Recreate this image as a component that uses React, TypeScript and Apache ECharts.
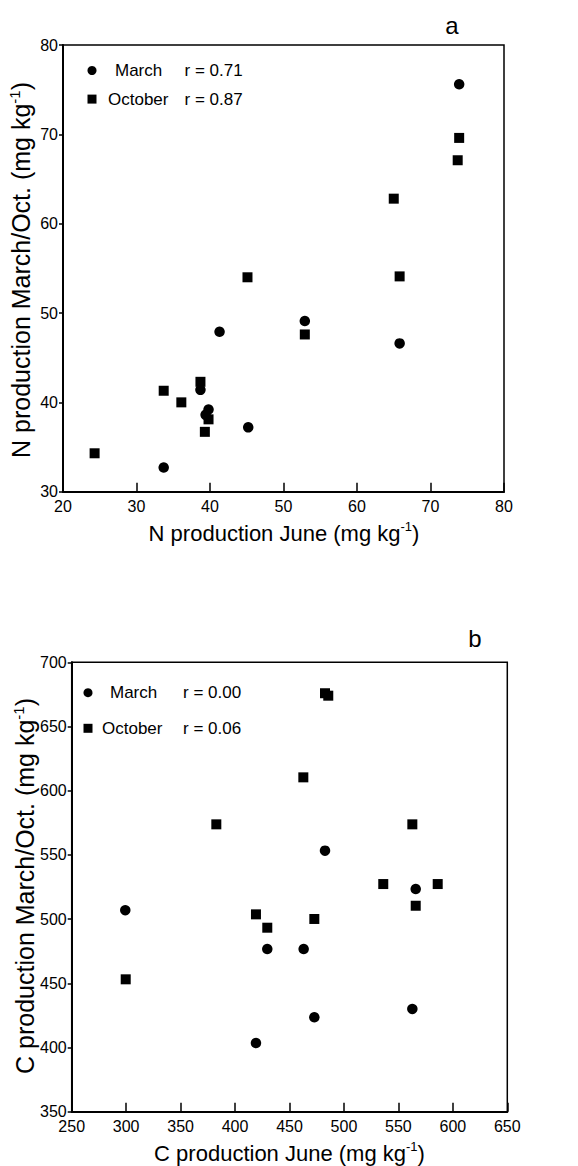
import React, { useEffect, useRef } from 'react';
import * as echarts from 'echarts';

const FONT = '"Liberation Sans", Arial, Helvetica, sans-serif';

// Panel a: N production
const nMarchX = [73.9, 52.9, 41.3, 65.8, 38.7, 39.8, 39.4, 45.2, 33.7];
const nMarchY = [75.6, 49.1, 47.9, 46.6, 41.4, 39.2, 38.6, 37.2, 32.7];
const nOctX = [73.9, 73.7, 65.0, 45.1, 65.8, 52.9, 38.7, 33.7, 36.1, 39.8, 39.3, 24.3];
const nOctY = [69.6, 67.1, 62.8, 54.0, 54.1, 47.6, 42.3, 41.3, 40.0, 38.1, 36.7, 34.3];

// Panel b: C production
const cMarchX = [482.6, 565.9, 299.2, 429.6, 463.0, 562.8, 472.8, 419.2];
const cMarchY = [553.3, 523.4, 506.9, 476.7, 476.7, 430.0, 423.5, 403.5];
const cOctX = [482.6, 485.6, 462.7, 382.8, 562.8, 536.1, 586.1, 565.9, 419.2, 472.8, 429.6, 299.6];
const cOctY = [675.9, 674.0, 610.4, 573.8, 573.8, 527.3, 527.3, 510.4, 503.7, 500.1, 493.3, 453.1];

const rA = { March: 'r = 0.71', October: 'r = 0.87' };
const rB = { March: 'r = 0.00', October: 'r = 0.06' };

const pair = (xs: number[], ys: number[]) => xs.map((x, i) => [x, ys[i]]);

export default function App() {
  const ref = useRef<HTMLDivElement>(null);
  useEffect(() => {
    const chart = echarts.init(ref.current!, null, { renderer: 'svg' });

    const xAxisBase = (min: number, max: number, interval: number, gridIndex: number) => ({
      type: 'value',
      gridIndex,
      min,
      max,
      interval,
      axisLine: { show: true, onZero: false, lineStyle: { color: '#000', width: 2 } },
      axisTick: { show: true, inside: true, length: 9, lineStyle: { color: '#000', width: 1.5 } },
      axisLabel: { color: '#000', fontSize: 16, fontFamily: FONT, margin: 7 },
      splitLine: { show: false },
    });
    const yAxisBase = (min: number, max: number, interval: number, gridIndex: number) => ({
      type: 'value',
      gridIndex,
      min,
      max,
      interval,
      axisLine: { show: true, onZero: false, lineStyle: { color: '#000', width: 2 } },
      axisTick: { show: true, inside: false, length: 4, lineStyle: { color: '#000', width: 1.5 } },
      axisLabel: { color: '#000', fontSize: 16, fontFamily: FONT, margin: 5 },
      splitLine: { show: false },
    });

    const sym = (name: string, symbol: string, size: number, data: number[][], idx: number) => ({
      type: 'scatter',
      name,
      xAxisIndex: idx,
      yAxisIndex: idx,
      symbol,
      symbolSize: size,
      itemStyle: { color: '#000', opacity: 1 },
      data,
    });

    const titleRich = (size: number) => ({
      t: { fontSize: size, fontFamily: FONT, fill: '#000', lineHeight: size + 4 },
      s: { fontSize: Math.round(size * 0.6), fontFamily: FONT, fill: '#000', verticalAlign: 'top', lineHeight: Math.round(size * 0.6) + 2 },
    });

    const textEl = (x: number, y: number, text: string, size: number, rotation = 0) => ({
      type: 'text',
      x,
      y,
      rotation,
      style: {
        text,
        rich: titleRich(size),
        fill: '#000',
        font: `${size}px ${FONT}`,
        align: 'center',
        verticalAlign: 'middle',
        textAlign: 'center',
        textVerticalAlign: 'middle',
      },
    });

    const LS = 17;
    const legendText = () => ({
      color: '#000',
      fontSize: LS,
      fontFamily: FONT,
      lineHeight: 20,
    });

    const option: any = {
      animation: false,
      backgroundColor: '#fff',
      grid: [
        { left: 63, top: 45, width: 441, height: 446.7, show: true, borderColor: '#000', borderWidth: 1.5, backgroundColor: 'transparent' },
        { left: 71.7, top: 662.3, width: 435.6, height: 449.4, show: true, borderColor: '#000', borderWidth: 1.5, backgroundColor: 'transparent' },
      ],
      xAxis: [xAxisBase(20, 80, 10, 0), xAxisBase(250, 650, 50, 1)],
      yAxis: [yAxisBase(30, 80, 10, 0), yAxisBase(350, 700, 50, 1)],
      legend: [
        {
          left: 87.5,
          top: 60.5,
          padding: 0,
          orient: 'vertical',
          itemWidth: 9,
          itemHeight: 9,
          itemGap: 8.6,
          selectedMode: false,
          itemStyle: { opacity: 1, color: '#000' },
          data: [
            { name: 'March', icon: 'circle' },
            { name: 'October', icon: 'rect' },
          ],
          formatter: (name: string) =>
            name === 'March'
              ? `{a|}{m|March}{r|${rA.March}}`
              : `{b|}{o|October}{r|${rA.October}}`,
          textStyle: {
            ...legendText(),
            rich: {
              a: { width: 13.5 },
              b: { width: 6.5 },
              m: { width: 69.5, ...legendText() },
              o: { width: 76.5, ...legendText() },
              r: { ...legendText() },
            },
          },
        },
        {
          left: 83.5,
          top: 682.7,
          padding: 0,
          orient: 'vertical',
          itemWidth: 9,
          itemHeight: 9,
          itemGap: 15.6,
          selectedMode: false,
          itemStyle: { opacity: 1, color: '#000' },
          data: [
            { name: 'March', icon: 'circle' },
            { name: 'October', icon: 'rect' },
          ],
          formatter: (name: string) =>
            name === 'March'
              ? `{a|}{m|March}{r|${rB.March}}`
              : `{b|}{o|October}{r|${rB.October}}`,
          textStyle: {
            ...legendText(),
            rich: {
              a: { width: 12.5 },
              b: { width: 4.5 },
              m: { width: 73, ...legendText() },
              o: { width: 81, ...legendText() },
              r: { ...legendText() },
            },
          },
        },
      ],
      series: [
        sym('March', 'circle', 10.5, pair(nMarchX, nMarchY), 0),
        sym('October', 'rect', 10, pair(nOctX, nOctY), 0),
        sym('March', 'circle', 10.5, pair(cMarchX, cMarchY), 1),
        sym('October', 'rect', 10, pair(cOctX, cOctY), 1),
      ],
      graphic: [
        textEl(452, 25, '{t|a}', 24),
        textEl(475, 638, '{t|b}', 24),
        textEl(284, 533, '{t|N production June (mg kg}{s|-1}{t|)}', 22),
        textEl(289.5, 1153, '{t|C production June (mg kg}{s|-1}{t|)}', 22),
        textEl(21, 270, '{t|N production March/Oct. (mg kg}{s|-1}{t|)}', 25, Math.PI / 2),
        textEl(25, 886, '{t|C production March/Oct. (mg kg}{s|-1}{t|)}', 25, Math.PI / 2),
      ],
    };

    chart.setOption(option);
    return () => chart.dispose();
  }, []);

  return (
    <div
      ref={ref}
      style={{ position: 'fixed', left: 0, top: 0, width: 578, height: 1166, background: '#fff' }}
    />
  );
}
